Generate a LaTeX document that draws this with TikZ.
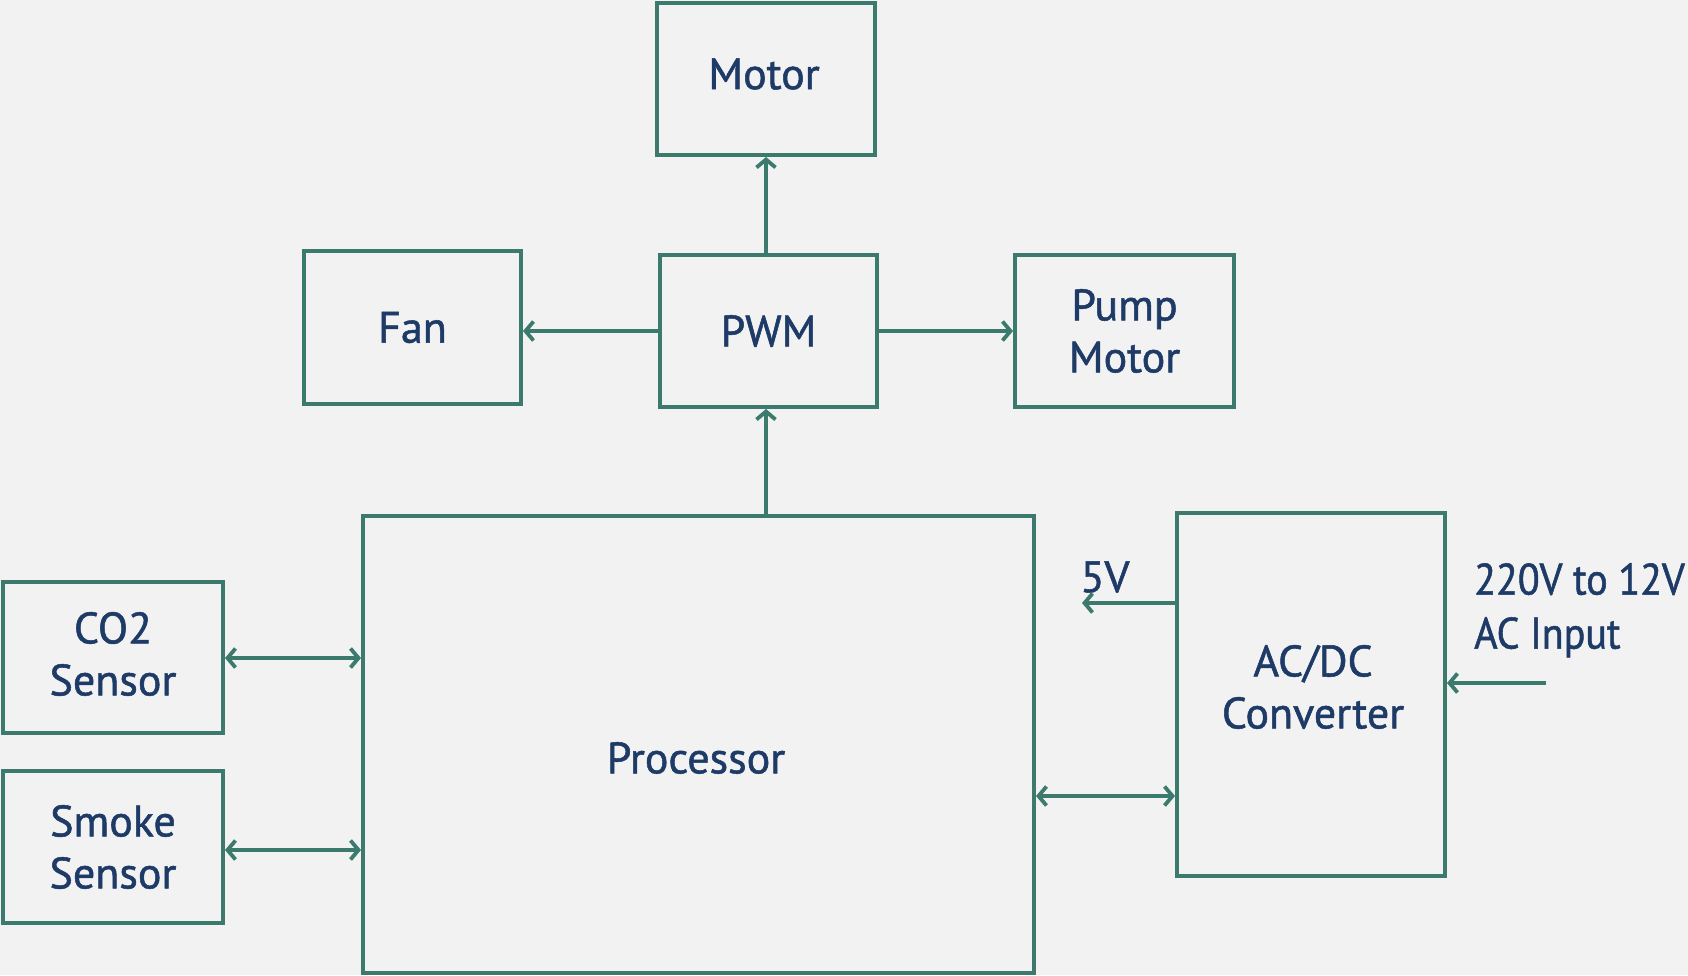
\documentclass[tikz,border=0pt]{standalone}
\usepackage{fontspec}
\setmainfont[FakeBold=1.2]{PT Sans}
\newfontfamily\narrowfont[FakeStretch=0.91,FakeBold=1.2]{PT Sans}
\usetikzlibrary{arrows.meta}
\definecolor{bgc}{HTML}{F2F2F2}
\definecolor{linec}{HTML}{3B7A6D}
\definecolor{textc}{HTML}{1E3A66}
\tikzset{
  blk/.style={draw=linec, line width=4pt, rectangle, inner sep=0pt, align=center,
    text=textc, font=\fontsize{44}{52}\selectfont},
  lbl/.style={text=textc, font=\fontsize{44}{52}\selectfont, inner sep=0pt, align=center},
  conn/.style={draw=linec, line width=4pt},
  tip/.style={-{Straight Barb[length=8pt,width=19pt,line width=3.8pt]}},
  tips/.style={{Straight Barb[length=8pt,width=19pt,line width=3.8pt]}-{Straight Barb[length=8pt,width=19pt,line width=3.8pt]}},
}
\begin{document}
\begin{tikzpicture}[x=1pt,y=-1pt]
\fill[bgc] (0,0) rectangle (1688,975);
\useasboundingbox (0,0) rectangle (1688,975);
% boxes
\node[blk, minimum width=218pt, minimum height=152pt] (motor) at (766,79) {};
\node[lbl] (motortext) at (764,74) {Motor};
\node[blk, minimum width=217pt, minimum height=152pt] (pwm) at (768.5,331) {PWM};
\node[blk, minimum width=217pt, minimum height=153pt] (fan) at (412.5,327.5) {Fan};
\node[blk, minimum width=219pt, minimum height=152pt] (pump) at (1124.5,331) {Pump\\Motor};
\node[blk, minimum width=671pt, minimum height=457pt] (proc) at (698.5,744.5) {};
\node[lbl] (proctext) at (696,758) {Processor};
\node[blk, minimum width=220pt, minimum height=151pt] (co2) at (113,657.5) {};
\node[lbl] (co2text) at (113,654) {CO2\\Sensor};
\node[blk, minimum width=220pt, minimum height=152pt] (smoke) at (113,847) {Smoke\\Sensor};
\node[blk, minimum width=268pt, minimum height=363pt] (acdc) at (1311,694.5) {};
\node[lbl] (acdctext) at (1313,687) {AC/DC\\Converter};
% free ends
\coordinate (v5) at (1082,603);
\coordinate (acin) at (1546,683);
% labels
\node[lbl] (v5lbl) at (1105,577) {5V};
\node[lbl, anchor=north west, align=left, font=\narrowfont\fontsize{44}{54}\selectfont] (inlbl) at (1474,563) {220V to 12V\\AC Input};
% connectors
\draw[conn, tip] (motor.south |- pwm.north) -- (motor.south);
\draw[conn, tip] (pwm.west) -- (pwm.west -| fan.east);
\draw[conn, tip] (pwm.east) -- (pwm.east -| pump.west);
\draw[conn, tip] (proc.north -| motor.south) -- (motor.south |- pwm.south);
\draw[conn, tips] (co2.east |- 0,658) -- (proc.west |- 0,658);
\draw[conn, tips] (smoke.east |- 0,850) -- (proc.west |- 0,850);
\draw[conn, tip] (acdc.west |- v5) -- (v5);
\draw[conn, tips] (proc.east |- 0,796) -- (acdc.west |- 0,796);
\draw[conn, tip] (acin) -- (acin -| acdc.east);
\end{tikzpicture}
\end{document}
